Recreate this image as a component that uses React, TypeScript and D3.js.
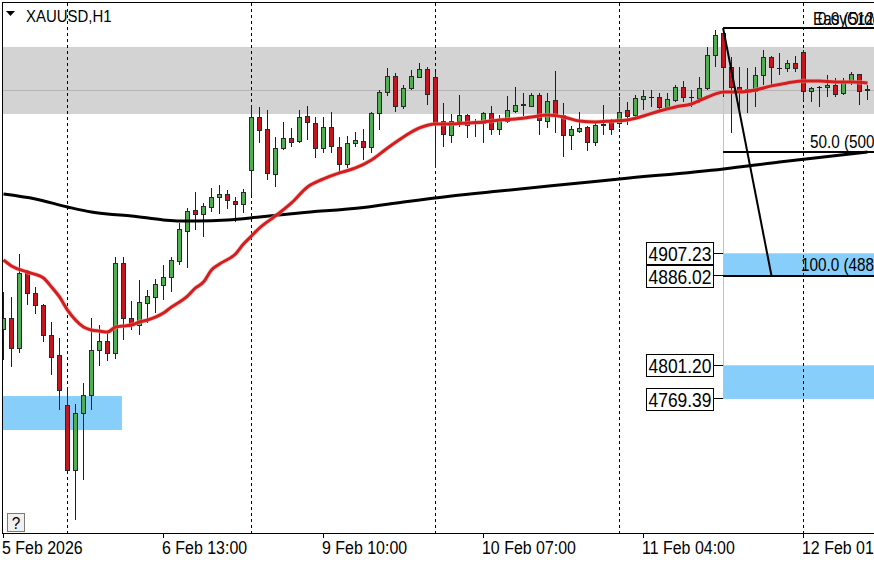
import React from 'react';
import * as d3 from 'd3';

const W = 874;
const H = 562;

// ---- candle data (H1 bars, index 0 = first visible bar) ----
const opens = [4835.5,4846.0,4817.6,4888.6,4869.6,4858.3,4829.9,4810.9,4763.6,4702.0,
4756.0,4773.0,4815.7,4824.2,4812.8,4898.1,4846.0,4839.3,4860.2,4865.9,
4877.2,4884.8,4900.0,4928.4,4948.2,4944.4,4951.1,4960.5,4963.4,4956.8,
4953.9,4986.1,5036.3,5024.9,4982.3,5006.9,5016.4,5013.6,5037.2,5030.6,
5006.9,5026.8,5007.9,4991.8,5011.7,5013.6,5007.9,5040.1,5060.0,5075.1,
5046.7,5063.8,5074.2,5081.8,5074.2,5032.5,5019.3,5032.5,5038.2,5031.6,
5030.6,5040.1,5024.9,5032.5,5042.0,5047.7,5046.7,5057.1,5032.5,5052.4,
5038.2,5019.3,5023.0,5026.8,5012.6,5028.7,5033.5,5030.6,5042.9,5038.2,
5053.4,5055.2,5055.2,5045.8,5052.4,5064.7,5055.2,5054.3,5063.8,5095.0,
5115.9,5083.6,5064.7,5061.9,5060.9,5076.1,5093.1,5082.7,5082.7,5087.4,
5097.9,5060.9,5064.7,5064.7,5066.6,5059.0,5069.5,5077.0,5061.9];
const highs = [4870.6,4865.9,4906.6,4891.4,4875.3,4859.2,4842.2,4827.0,4780.6,4764.5,
4784.4,4846.0,4839.3,4831.8,4903.7,4903.7,4862.1,4881.9,4872.5,4882.9,
4896.2,4903.7,4935.9,4950.1,4965.3,4954.9,4969.1,4971.9,4967.2,4960.5,
4968.1,5047.7,5045.8,5042.9,5017.4,5031.6,5025.9,5042.9,5046.7,5036.3,
5036.3,5041.0,5017.4,5018.3,5022.1,5024.9,5041.0,5061.9,5082.7,5078.0,
5066.6,5080.8,5087.4,5083.6,5078.9,5049.6,5039.1,5057.1,5039.1,5034.4,
5041.0,5046.7,5038.2,5056.2,5064.7,5059.0,5059.0,5059.0,5059.0,5079.9,
5049.6,5027.8,5041.0,5027.8,5030.6,5047.7,5034.4,5055.2,5050.5,5057.1,
5061.9,5061.9,5059.0,5059.0,5066.6,5070.4,5061.9,5074.2,5102.6,5118.7,
5120.6,5093.1,5083.6,5082.7,5083.6,5099.8,5094.1,5096.9,5090.3,5094.1,
5099.8,5064.7,5065.6,5076.1,5073.2,5073.2,5078.9,5077.0,5066.6];
const lows = [4806.2,4799.6,4812.8,4858.3,4849.8,4823.2,4792.0,4758.8,4700.1,4655.0,
4692.6,4758.8,4800.5,4805.2,4807.1,4825.1,4834.6,4829.9,4841.2,4850.7,
4863.0,4870.6,4896.2,4893.3,4929.3,4922.7,4946.3,4944.4,4949.2,4936.9,
4945.4,4962.4,5011.7,4976.6,4970.0,5005.1,5007.9,5011.7,5014.5,4997.5,
5002.2,5002.2,4983.3,4988.0,5007.9,4995.6,5002.2,5024.0,5056.2,5041.0,
5043.9,5061.9,5073.2,5047.7,4988.0,5007.9,5011.7,5026.8,5016.4,5017.4,
5011.7,5019.3,5019.3,5030.6,5040.1,5037.2,5045.8,5019.3,5025.9,5021.2,
4998.4,5005.1,5021.2,5004.1,5008.8,5019.3,5019.3,5025.9,5028.7,5033.5,
5042.9,5045.8,5042.9,5042.9,5050.5,5050.5,5045.8,5049.6,5061.9,5083.6,
5055.2,5021.2,5042.9,5040.1,5045.8,5066.6,5066.6,5076.1,5078.9,5078.9,
5052.4,5050.5,5045.8,5055.2,5055.2,5057.1,5066.6,5047.7,5052.4];
const closes = [4846.0,4817.6,4888.6,4869.6,4858.3,4829.9,4809.0,4777.8,4702.0,4756.0,
4773.0,4815.7,4824.2,4812.8,4898.1,4846.0,4840.3,4861.1,4866.8,4878.2,
4884.8,4900.9,4930.3,4947.3,4944.4,4952.0,4960.5,4963.4,4957.7,4953.9,
4965.3,5036.3,5024.0,4983.3,5006.9,5016.4,5012.6,5036.3,5031.6,5006.9,
5026.8,5008.8,4991.8,5011.7,5014.5,5007.9,5040.1,5060.0,5075.1,5046.7,
5063.8,5075.1,5081.8,5058.1,5030.6,5020.2,5032.5,5038.2,5028.7,5030.6,
5040.1,5024.9,5034.4,5042.9,5047.7,5048.6,5057.1,5033.5,5051.5,5038.2,
5019.3,5024.9,5025.9,5012.6,5028.7,5029.7,5024.9,5041.0,5037.2,5054.3,
5056.2,5055.6,5045.8,5053.4,5064.7,5055.2,5055.6,5063.8,5095.0,5114.0,
5083.6,5064.7,5060.9,5062.3,5076.1,5093.1,5083.6,5083.1,5087.4,5082.7,
5060.9,5063.8,5065.1,5066.6,5058.1,5069.5,5077.0,5060.9,5062.3];

// ---- moving averages ----
const redMAIdx = [0,1,3,5,6,7,8,9,10,11,12,13,14,15,16,17,18,19,20,21,22,23,24,25,26,27,29,30,31,32,
34,36,38,40,42,44,46,48,50,52,54,56,58,60,62,64,66,68,70,72,74,76,78,80,82,84,86,88,89,90,
92,94,96,98,100,102,104,106,108];
const redMAVal = [4900.9,4895.2,4889.5,4883.8,4875.3,4865.9,4853.5,4844.1,4837.4,4834.6,
4833.6,4832.7,4837.4,4838.4,4839.3,4842.2,4844.1,4846.9,4850.7,4856.4,
4861.1,4866.8,4874.4,4880.0,4891.4,4897.1,4906.6,4916.0,4923.6,4931.2,
4942.6,4954.9,4970.0,4977.6,4983.3,4988.0,4995.6,5006.9,5017.4,5025.9,
5029.7,5029.7,5030.6,5031.6,5033.5,5034.4,5036.3,5038.2,5036.3,5032.5,
5031.6,5032.5,5033.5,5037.2,5042.0,5045.8,5048.6,5055.2,5058.1,5060.0,
5060.0,5061.9,5065.7,5068.5,5070.4,5070.4,5069.5,5069.5,5068.5];
const blackMAIdx = [0,4,8,11,13,16,20,22,24,28,32,37,45,50,56,62,72,77,90,97,108];
const blackMAVal = [4963.4,4958.7,4951.1,4946.3,4944.4,4942.6,4938.8,4937.8,4937.8,4938.8,
4941.6,4945.4,4950.6,4955.8,4961.5,4966.2,4973.8,4977.6,4987.1,4993.7,5003.2];

// ---- time axis ----
const timeTickIdx = [0, 20, 40, 60, 80, 100];
const timeTickLabels = ['5 Feb 2026', '6 Feb 13:00', '9 Feb 10:00', '10 Feb 07:00', '11 Feb 04:00', '12 Feb 01:00'];
const daySepIdx = [8, 31, 54, 77, 100];

// ---- objects ----
const grayZonePrices = [5102.6, 5039.1];
const grayMidPrice = 5060.9;
const leftZoneBars = [-0.5, 14.8];
const leftZonePrices = [4772.1, 4739.9];
const upperZonePrices = [4907.23, 4886.02];
const lowerZonePrices = [4801.20, 4769.39];
const zoneStartBar = 89.95;
const fibBars = [89.95, 96];
const fibPrices = [5120.55, 4886.02];
const fibLevels = [0, 50, 100];
const priceLabels = ['4907.23', '4886.02', '4801.20', '4769.39'];

const FONT = '"Liberation Sans", Arial, sans-serif';

const CText = ({ x, y, size = 19, sx = 0.84, anchor = 'start', children }: any) => (
  <text
    transform={`translate(${x},${y}) scale(${sx},1)`}
    fontSize={size}
    fontFamily={FONT}
    textAnchor={anchor}
    fill="#000"
  >
    {children}
  </text>
);

export default function App() {
  const x = d3.scaleLinear().domain([0, 100]).range([3.5, 803.5]);
  const y = d3.scaleLinear().domain([4907.23, 4769.39]).range([253.3, 398.9]);
  const left = 3, top = 3, bottom = 533, right = W;
  const snap = (v: number) => Math.round(v - 0.5) + 0.5;

  const redLine = d3
    .line<number>()
    .x((_, i) => x(redMAIdx[i]))
    .y((d) => y(d))
    .curve(d3.curveMonotoneX)(redMAVal) as string;
  const blackLine = d3
    .line<number>()
    .x((_, i) => x(blackMAIdx[i]))
    .y((d) => y(d))
    .curve(d3.curveMonotoneX)(blackMAVal) as string;

  const fibTop = fibPrices[0];
  const fibBottom = fibPrices[1];
  const fibLevelPrice = (lv: number) => fibTop - ((fibTop - fibBottom) * lv) / 100;
  const fibLabelX = [818, 810, 801];
  const fibLabelDy = [-3, -4, -5];

  const zoneX0 = x(zoneStartBar);
  const labelTickX = zoneX0;

  return (
    <svg
      width={W}
      height={H}
      style={{ position: 'fixed', left: 0, top: 0, background: '#fff', display: 'block' }}
    >
      <defs>
        <clipPath id="plot">
          <rect x={left} y={top} width={right - left} height={bottom - top} />
        </clipPath>
      </defs>
      <rect x={0} y={0} width={W} height={H} fill="#fff" />
      <g clipPath="url(#plot)">
        {/* gray band */}
        <rect
          x={left}
          y={y(grayZonePrices[0])}
          width={right - left}
          height={y(grayZonePrices[1]) - y(grayZonePrices[0])}
          fill="#d3d3d3"
        />
        <line x1={left} x2={right} y1={snap(y(grayMidPrice))} y2={snap(y(grayMidPrice))} stroke="#b4b4b4" strokeWidth={1} />
        {/* blue zones */}
        <rect
          x={left}
          y={y(leftZonePrices[0])}
          width={x(leftZoneBars[1]) - left}
          height={y(leftZonePrices[1]) - y(leftZonePrices[0])}
          fill="#87cefa"
        />
        <rect
          x={zoneX0}
          y={y(upperZonePrices[0])}
          width={right - zoneX0}
          height={y(upperZonePrices[1]) - y(upperZonePrices[0])}
          fill="#87cefa"
        />
        <rect
          x={zoneX0}
          y={y(lowerZonePrices[0])}
          width={right - zoneX0}
          height={y(lowerZonePrices[1]) - y(lowerZonePrices[0])}
          fill="#87cefa"
        />
        {/* light blue vertical */}
        <line x1={snap(zoneX0)} x2={snap(zoneX0)} y1={y(fibTop)} y2={y(lowerZonePrices[1])} stroke="#9fcdea" strokeWidth={1} />
        {/* day separators */}
        {daySepIdx.map((k) => (
          <line
            key={k}
            x1={snap(x(k))}
            x2={snap(x(k))}
            y1={top}
            y2={bottom}
            stroke="#000"
            strokeWidth={1}
            strokeDasharray="3,3"
          />
        ))}
        {/* candles */}
        {opens.map((o, k) => {
          const c = closes[k];
          const cx = snap(x(k));
          const up = c >= o;
          const yo = y(o), yc = y(c);
          const y0 = Math.round(Math.min(yo, yc)) + 0.5;
          const y1 = Math.round(Math.max(yo, yc)) + 0.5;
          return (
            <g key={k}>
              <line x1={cx} x2={cx} y1={Math.round(y(highs[k]))} y2={Math.round(y(lows[k]))} stroke="#1e1e1e" strokeWidth={1} />
              {y1 - y0 < 1 ? (
                <line x1={cx - 2.5} x2={cx + 2.5} y1={y0} y2={y0} stroke="#1e1e1e" strokeWidth={1} />
              ) : (
                <rect
                  x={cx - 2}
                  y={y0}
                  width={4}
                  height={y1 - y0}
                  fill={up ? '#52ad52' : '#c4161f'}
                  stroke="#2a2a2a"
                  strokeWidth={1}
                />
              )}
            </g>
          );
        })}
        {/* moving averages */}
        <path d={blackLine} fill="none" stroke="#000" strokeWidth={3} strokeLinejoin="round" />
        <path d={redLine} fill="none" stroke="#f2a0a0" strokeWidth={4.5} strokeLinejoin="round" opacity={0.6} />
        <path d={redLine} fill="none" stroke="#d41d1d" strokeWidth={3} strokeLinejoin="round" />
        {/* fibonacci */}
        {fibLevels.map((lv, i) => {
          const py = Math.round(y(fibLevelPrice(lv)));
          return (
            <g key={lv}>
              <line x1={zoneX0} x2={right} y1={py} y2={py} stroke="#000" strokeWidth={2} />
              <CText x={fibLabelX[i]} y={py + fibLabelDy[i]} size={18} sx={0.85}>
                {`${lv.toFixed(1)} (${fibLevelPrice(lv).toFixed(2)})`}
              </CText>
            </g>
          );
        })}
        <line
          x1={x(fibBars[0])}
          y1={y(fibPrices[0])}
          x2={x(fibBars[1])}
          y2={y(fibPrices[1])}
          stroke="#000"
          strokeWidth={2}
        />
        <CText x={813} y={25} size={18} sx={0.85}>EasyOrder</CText>
      </g>

      {/* price labels */}
      {priceLabels.map((t) => {
        const py = y(+t);
        return (
          <g key={t}>
            <line x1={713} x2={labelTickX} y1={snap(py)} y2={snap(py)} stroke="#000" strokeWidth={1} />
            <rect x={646.5} y={Math.round(py) - 10.5} width={67} height={22} fill="#fff" stroke="#000" strokeWidth={1} />
            <CText x={680} y={Math.round(py) + 7.5} size={20} sx={0.87} anchor="middle">
              {t}
            </CText>
          </g>
        );
      })}

      {/* frame */}
      <line x1={2.5} x2={2.5} y1={2} y2={bottom + 1} stroke="#000" strokeWidth={1} />
      <line x1={2} x2={W} y1={2.5} y2={2.5} stroke="#000" strokeWidth={1} />
      <line x1={2} x2={W} y1={bottom + 0.5} y2={bottom + 0.5} stroke="#000" strokeWidth={1} />

      {/* time axis */}
      {timeTickIdx.map((k, i) => (
        <g key={k}>
          <line x1={snap(x(k))} x2={snap(x(k))} y1={bottom} y2={bottom + 5} stroke="#000" strokeWidth={1} />
          <CText x={Math.floor(x(k)) - 1} y={554} size={19} sx={0.84}>
            {timeTickLabels[i]}
          </CText>
        </g>
      ))}

      {/* title */}
      <path d="M6,11 L15,11 L10.5,16 Z" fill="#000" />
      <CText x={26} y={21.5} size={17} sx={0.88}>XAUUSD,H1</CText>

      {/* ? button */}
      <rect x={7.5} y={513.5} width={17} height={18} fill="#f0f0f0" stroke="#7a7a7a" strokeWidth={1} />
      <CText x={16} y={529} size={17} sx={0.9} anchor="middle">?</CText>
    </svg>
  );
}
